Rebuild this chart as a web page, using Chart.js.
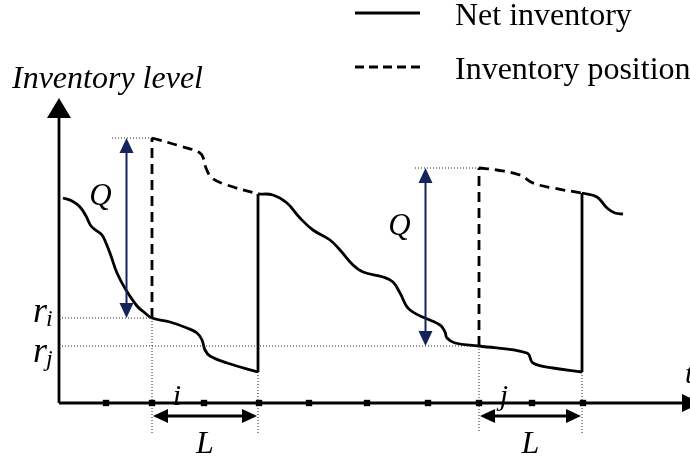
<!DOCTYPE html>
<html>
<head>
<meta charset="utf-8">
<script src="https://cdn.jsdelivr.net/npm/chart.js@4.4.1/dist/chart.umd.min.js"></script>
<style>
  html, body { margin: 0; padding: 0; background: #fff; }
  canvas { display: block; }
</style>
</head>
<body>
<canvas id="invChart" width="690" height="457"></canvas>
<script>
// Values are [time, level] (1 unit ~ 10 px)
var netCycle1 = [[0.4,20.5],[1.3,20.2],[2.1,19.6],[2.7,18.7],[3.2,17.7],[3.8,17.2],[4.3,16.8],[4.7,16.0],[5.2,14.7],
                 [5.8,13.0],[6.7,11.3],[7.8,9.7],[8.6,9.0],[9.3,8.5],[11.1,8.1],[12.8,7.5],[13.8,7.0],[14.3,6.3],
                 [14.6,5.3],[15.1,4.7],[16.8,4.0],[19.9,3.1]];
var netCycle2 = [[19.9,20.9],[21.4,20.8],[22.8,20.0],[24.1,18.5],[25.4,17.3],[27.1,16.3],[28.1,15.3],[29.4,13.8],
                 [30.4,13.1],[32.4,12.6],[33.4,12.1],[34.1,11.0],[35.1,9.3],[38.1,7.8],[38.6,7.1],[38.8,6.5],
                 [39.6,6.0],[42.0,5.7],[46.8,5.0],[47.4,4.0],[49.4,3.5],[52.3,3.1]];
var netCycle3 = [[52.3,21.0],[53.8,20.6],[54.8,19.5],[55.6,19.0],[56.4,18.9]];
var posCycle1 = [[9.3,26.5],[12.1,25.7],[14.1,25.0],[14.5,24.3],[14.7,23.5],[15.3,22.5],[16.8,21.8],[19.9,20.9]];
var posCycle2 = [[42.0,23.5],[43.8,23.3],[46.1,22.8],[47.4,22.0],[49.4,21.5],[52.3,21.0]];

// order placed at reorder point, arrives L later
var orderTimes = [9.3, 42.0];
var arriveTimes = [19.9, 52.3];
var reorderLevels = [8.5, 5.7];
var arriveLevels = [3.1, 3.1];
var positionPeaks = [26.5, 23.5];
var tickTimes = [4.7, 9.3, 14.5, 20.0, 25.0, 30.8, 36.9, 42.0, 47.3, 52.4];
var cycleNames = ['i', 'j'];

var navy = '#14245a';

function path(points, opts) {
  var ds = {
    data: points.map(function(p) { return { x: p[0], y: p[1] }; }),
    showLine: true,
    pointRadius: 0,
    borderColor: '#000',
    borderWidth: 2.8,
    tension: 0.4,
    fill: false
  };
  for (var k in opts) ds[k] = opts[k];
  return ds;
}

var dotted = { borderColor: '#222', borderWidth: 1, borderDash: [1, 2], tension: 0 };
var dashed = { borderDash: [10, 6] };
var datasets = [];

// dotted guide lines
for (var i = 0; i < 2; i++) {
  datasets.push(path([[0, reorderLevels[i]], [orderTimes[i], reorderLevels[i]]], dotted));
  datasets.push(path([[orderTimes[i], reorderLevels[i]], [orderTimes[i], -3.0]], dotted));
  datasets.push(path([[arriveTimes[i], arriveLevels[i]], [arriveTimes[i], -3.0]], dotted));
}
datasets.push(path([[5.3, positionPeaks[0]], [orderTimes[0], positionPeaks[0]]], dotted));
datasets.push(path([[35.6, positionPeaks[1]], [orderTimes[1], positionPeaks[1]]], dotted));

// net inventory
datasets.push(path(netCycle1));
datasets.push(path([[arriveTimes[0], arriveLevels[0]], [arriveTimes[0], netCycle2[0][1]]], { tension: 0 }));
datasets.push(path(netCycle2));
datasets.push(path([[arriveTimes[1], arriveLevels[1]], [arriveTimes[1], netCycle3[0][1]]], { tension: 0 }));
datasets.push(path(netCycle3));

// inventory position
datasets.push(path([[orderTimes[0], reorderLevels[0]], [orderTimes[0], positionPeaks[0]]], { borderDash: [10, 6], tension: 0 }));
datasets.push(path(posCycle1, dashed));
datasets.push(path([[orderTimes[1], reorderLevels[1]], [orderTimes[1], positionPeaks[1]]], { borderDash: [10, 6], tension: 0 }));
datasets.push(path(posCycle2, dashed));

// ticks on time axis
datasets.push({
  data: tickTimes.map(function(t) { return { x: t, y: 0 }; }),
  showLine: false,
  pointStyle: 'rect',
  pointRadius: 4.5,
  pointBackgroundColor: '#000',
  pointBorderWidth: 0
});

function arrowHead(ctx, x, y, angle, len, half, color) {
  ctx.save();
  ctx.translate(x, y);
  ctx.rotate(angle);
  ctx.fillStyle = color;
  ctx.beginPath();
  ctx.moveTo(0, 0);
  ctx.lineTo(-len, -half);
  ctx.lineTo(-len, half);
  ctx.closePath();
  ctx.fill();
  ctx.restore();
}

function line(ctx, x1, y1, x2, y2, w, color, dash) {
  ctx.save();
  ctx.strokeStyle = color;
  ctx.lineWidth = w;
  ctx.setLineDash(dash || []);
  ctx.beginPath();
  ctx.moveTo(x1, y1);
  ctx.lineTo(x2, y2);
  ctx.stroke();
  ctx.restore();
}

function text(ctx, s, x, y, font, align) {
  ctx.font = font;
  ctx.fillStyle = '#000';
  ctx.textAlign = align || 'left';
  ctx.textBaseline = 'alphabetic';
  ctx.fillText(s, x, y);
}

var diagramPlugin = {
  id: 'diagram',
  afterDatasetsDraw: function(chart) {
    var ctx = chart.ctx;
    var xs = chart.scales.x, ys = chart.scales.y;
    var X = function(v) { return xs.getPixelForValue(v); };
    var Y = function(v) { return ys.getPixelForValue(v); };
    var serif = '"Liberation Serif", "Times New Roman", serif';

    // axes
    line(ctx, X(0), Y(0), X(0), Y(29), 2.8, '#000');
    arrowHead(ctx, X(0), Y(30.5), -Math.PI / 2, 20, 12, '#000');
    line(ctx, X(0), Y(0), X(62.5), Y(0), 2.8, '#000');
    arrowHead(ctx, X(64.2), Y(0), 0, 19, 9, '#000');

    // Q arrows and L arrows
    for (var i = 0; i < 2; i++) {
      var qx = X(orderTimes[i] - (i === 0 ? 2.55 : 5.35));
      line(ctx, qx, Y(positionPeaks[i]) + 12, qx, Y(reorderLevels[i]) - 12, 2, navy);
      arrowHead(ctx, qx, Y(positionPeaks[i]), -Math.PI / 2, 15, 7, navy);
      arrowHead(ctx, qx, Y(reorderLevels[i]), Math.PI / 2, 15, 7, navy);
      text(ctx, 'Q', qx - 26, Y(positionPeaks[i]) + 67, 'italic 31px ' + serif, 'center');

      var ly = Y(-1.3);
      var a = X(orderTimes[i]) + 1, b = X(arriveTimes[i]) - 1;
      line(ctx, a + 12, ly, b - 12, ly, 2.8, '#000');
      arrowHead(ctx, a, ly, Math.PI, 15, 7, '#000');
      arrowHead(ctx, b, ly, 0, 15, 7, '#000');
      text(ctx, 'L', (a + b) / 2, Y(-5.0), 'italic 32px ' + serif, 'center');
      text(ctx, cycleNames[i], X(orderTimes[i]) + 25, Y(-0.2), 'italic 30px ' + serif, 'center');
    }

    // reorder point labels
    var rx = X(0) - 12;
    text(ctx, 'r', rx, Y(reorderLevels[0]) + 4, 'italic 36px ' + serif, 'right');
    text(ctx, 'i', rx - 1, Y(reorderLevels[0]) + 8, 'italic 24px ' + serif, 'left');
    text(ctx, 'r', rx, Y(reorderLevels[1]) + 16, 'italic 36px ' + serif, 'right');
    text(ctx, 'j', rx - 1, Y(reorderLevels[1]) + 20, 'italic 24px ' + serif, 'left');

    text(ctx, 'Inventory level', 12, 88, 'italic 32px ' + serif);
    text(ctx, 't', 685, 383, 'italic 30px ' + serif);

    // legend
    line(ctx, 355, 13, 420, 13, 2.8, '#000');
    text(ctx, 'Net inventory', 455, 25, '32px ' + serif);
    line(ctx, 355, 67, 420, 67, 2.8, '#000', [9, 5]);
    text(ctx, 'Inventory position', 455, 79, '32px ' + serif);
  }
};

new Chart(document.getElementById('invChart'), {
  type: 'scatter',
  data: { datasets: datasets },
  options: {
    responsive: false,
    animation: false,
    layout: { padding: 0, autoPadding: false },
    plugins: { legend: { display: false }, tooltip: { enabled: false } },
    scales: {
      x: { type: 'linear', min: -5.9, max: 63.1, display: false },
      y: { type: 'linear', min: -5.4, max: 40.3, display: false }
    }
  },
  plugins: [diagramPlugin]
});
</script>
</body>
</html>
